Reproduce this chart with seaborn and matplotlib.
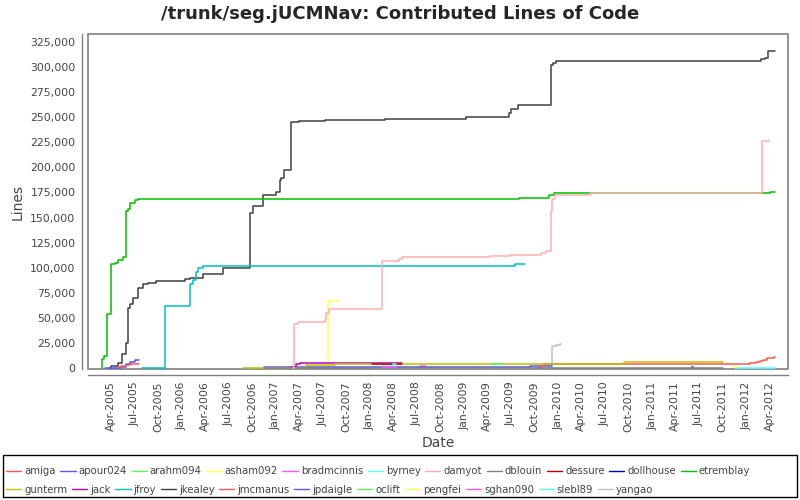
import pandas as pd
import matplotlib
matplotlib.use("Agg")
import matplotlib.pyplot as plt
import matplotlib.dates as mdates
from matplotlib.lines import Line2D
from matplotlib.patches import Rectangle
from matplotlib.ticker import FuncFormatter
import seaborn as sns

# author order as in the legend
authors = ["amiga", "apour024", "arahm094", "asham092", "bradmcinnis", "byrney",
           "damyot", "dblouin", "dessure", "dollhouse", "etremblay",
           "gunterm", "jack", "jfroy", "jkealey", "jmcmanus", "jpdaigle",
           "oclift", "pengfei", "sghan090", "slebl89", "yangao"]
colors = ["#FF5555", "#5555FF", "#55FF55", "#FFFF55", "#FF55FF", "#55FFFF",
          "#FFAFAF", "#808080", "#C00000", "#0000C0", "#00C000",
          "#C0C000", "#C000C0", "#00C0C0", "#404040", "#FF5555", "#5555FF",
          "#55FF55", "#FFFF55", "#FF55FF", "#55FFFF", "#C0C0C0"]

# cumulative lines per author
amiga_dates = ["2005-04-26", "2005-05-10", "2005-05-30", "2005-06-12", "2005-07-18"]
amiga_lines = [1000, 2000, 2700, 3700, 3700]

apour024_dates = ["2005-03-07", "2005-05-10", "2005-05-30", "2005-06-12", "2005-07-01", "2005-07-18"]
apour024_lines = [0, 1000, 3700, 6300, 7700, 7700]

arahm094_dates = ["2009-04-17", "2009-06-01"]
arahm094_lines = [3700, 3700]

asham092_dates = ["2011-11-11", "2011-12-01"]
asham092_lines = [500, 500]

bradmcinnis_dates = ["2008-02-16", "2008-04-10"]
bradmcinnis_lines = [500, 500]

byrney_dates = ["2008-02-14", "2008-04-01", "2008-04-10"]
byrney_lines = [2000, 3700, 3700]

damyot_dates = ["2007-03-10", "2007-03-14", "2007-03-27", "2007-07-09", "2007-07-15", "2007-07-28",
                "2008-02-16", "2008-04-22", "2008-05-03", "2009-04-10", "2009-06-27",
                "2009-10-28", "2009-11-16", "2009-12-03", "2009-12-07", "2009-12-11",
                "2009-12-21", "2010-05-04", "2012-03-03", "2012-04-01"]
damyot_lines = [0, 43700, 46000, 48000, 54700, 58700,
                106300, 108700, 110300, 111300, 112700,
                114300, 117000, 157000, 167000, 168700,
                172700, 174700, 226000, 227700]

dblouin_dates = ["2006-11-15", "2011-10-04"]
dblouin_lines = [300, 300]

dessure_dates = ["2008-01-08", "2008-05-03"]
dessure_lines = [3700, 3700]

dollhouse_dates = ["2011-06-04", "2011-06-10"]
dollhouse_lines = [1000, 1000]

etremblay_dates = ["2005-02-24", "2005-02-25", "2005-03-03", "2005-03-16", "2005-03-17",
                   "2005-04-01", "2005-04-14", "2005-04-27", "2005-05-16", "2005-05-30",
                   "2005-06-05", "2005-06-12", "2005-07-01", "2005-07-14", "2009-08-01",
                   "2009-11-25", "2009-12-18", "2012-03-01", "2012-04-03", "2012-04-21"]
etremblay_lines = [0, 9000, 12000, 14000, 54000,
                   104000, 105000, 108000, 111000, 157000,
                   159000, 165000, 167000, 168700, 169700,
                   172000, 174500, 174700, 175700, 175700]

gunterm_dates = ["2006-08-26", "2007-04-28", "2007-08-17", "2010-09-13", "2011-10-04"]
gunterm_lines = [0, 3000, 3700, 6000, 6000]

jack_dates = ["2007-02-27", "2007-03-18", "2007-04-05", "2008-05-03"]
jack_lines = [1300, 3700, 4700, 4700]

jfroy_dates = ["2005-07-30", "2005-10-26", "2006-01-31", "2006-02-13", "2006-02-26",
               "2006-03-04", "2006-03-23", "2009-07-10", "2009-07-16", "2009-08-27"]
jfroy_lines = [0, 62000, 83700, 87700, 95300,
               99300, 101300, 102000, 103700, 103700]

jkealey_dates = ["2005-03-26", "2005-04-01", "2005-04-26", "2005-05-15", "2005-05-30",
                 "2005-06-05", "2005-06-12", "2005-06-24", "2005-07-13", "2005-08-01",
                 "2005-08-21", "2005-09-24", "2006-01-11", "2006-01-31", "2006-03-22",
                 "2006-06-08", "2006-09-21", "2006-10-03", "2006-11-11", "2007-01-02",
                 "2007-01-15", "2007-01-22", "2007-01-31", "2007-03-01", "2007-03-02",
                 "2007-04-02", "2007-07-09", "2008-03-01", "2009-01-10", "2009-06-23",
                 "2009-07-01", "2009-07-28", "2009-12-03", "2009-12-11", "2009-12-25",
                 "2012-03-01", "2012-03-16", "2012-03-25", "2012-04-21"]
jkealey_lines = [0, 2000, 5000, 14000, 25000,
                 60000, 64000, 70000, 80000, 84000,
                 85000, 87000, 89000, 90000, 94000,
                 100000, 155000, 162000, 172000, 175000,
                 187000, 189000, 197000, 201000, 245000,
                 246000, 247500, 248500, 250000, 254000,
                 258000, 262000, 302000, 304000, 305700,
                 308000, 309000, 316000, 316000]

jmcmanus_dates = ["2009-10-15", "2009-10-28", "2009-11-06", "2012-01-15", "2012-02-10",
                  "2012-02-23", "2012-03-07", "2012-03-24", "2012-04-19", "2012-04-21"]
jmcmanus_lines = [0, 2000, 3700, 4700, 6000,
                  7000, 8000, 9700, 11000, 11000]

jpdaigle_dates = ["2006-11-15", "2006-11-18", "2009-09-13", "2009-12-07"]
jpdaigle_lines = [500, 1000, 2000, 2000]

oclift_dates = ["2009-04-17", "2009-05-10"]
oclift_lines = [300, 300]

pengfei_dates = ["2007-04-22", "2007-07-21", "2007-07-25", "2007-09-02"]
pengfei_lines = [500, 65300, 67000, 67000]

sghan090_dates = ["2008-07-13", "2008-08-01"]
sghan090_lines = [1500, 1500]

slebl89_dates = ["2011-11-18", "2012-04-21"]
slebl89_lines = [0, 0]

yangao_dates = ["2008-01-08", "2009-12-09", "2009-12-25", "2010-01-10", "2010-01-12"]
yangao_lines = [0, 22000, 23000, 23700, 23700]

series = {
    "amiga": (amiga_dates, amiga_lines), "apour024": (apour024_dates, apour024_lines),
    "arahm094": (arahm094_dates, arahm094_lines), "asham092": (asham092_dates, asham092_lines),
    "bradmcinnis": (bradmcinnis_dates, bradmcinnis_lines), "byrney": (byrney_dates, byrney_lines),
    "damyot": (damyot_dates, damyot_lines), "dblouin": (dblouin_dates, dblouin_lines),
    "dessure": (dessure_dates, dessure_lines), "dollhouse": (dollhouse_dates, dollhouse_lines),
    "etremblay": (etremblay_dates, etremblay_lines), "gunterm": (gunterm_dates, gunterm_lines),
    "jack": (jack_dates, jack_lines), "jfroy": (jfroy_dates, jfroy_lines),
    "jkealey": (jkealey_dates, jkealey_lines), "jmcmanus": (jmcmanus_dates, jmcmanus_lines),
    "jpdaigle": (jpdaigle_dates, jpdaigle_lines), "oclift": (oclift_dates, oclift_lines),
    "pengfei": (pengfei_dates, pengfei_lines), "sghan090": (sghan090_dates, sghan090_lines),
    "slebl89": (slebl89_dates, slebl89_lines), "yangao": (yangao_dates, yangao_lines),
}

rows = []
for a in authors:
    d, v = series[a]
    for di, vi in zip(d, v):
        rows.append((a, pd.Timestamp(di), vi))
df = pd.DataFrame(rows, columns=["author", "date", "lines"])

sns.set_style("white")
plt.rcParams["font.family"] = ["DejaVu Sans"]
gray_txt = "#444444"

fig = plt.figure(figsize=(8, 5), dpi=100)
ax = fig.add_axes([0.11, 0.262, 0.875, 0.67])

palette = dict(zip(authors, colors))
# first series on top, like the original
sns.lineplot(data=df, x="date", y="lines", hue="author", hue_order=authors[::-1],
             palette=palette, drawstyle="steps-post", linewidth=1.1,
             estimator=None, sort=False, legend=False, ax=ax)

ax.set_xlim(pd.Timestamp("2005-01-01"), pd.Timestamp("2012-06-12"))
ax.set_ylim(-1000, 333000)
ax.set_yticks(range(0, 325001, 25000))
ax.yaxis.set_major_formatter(FuncFormatter(lambda v, p: f"{int(v):,}"))
ax.set_xticks(pd.date_range("2005-04-01", "2012-04-01", freq="3MS"))
ax.xaxis.set_major_formatter(mdates.DateFormatter("%b-%Y"))
ax.tick_params(axis="x", rotation=90, labelsize=7.8, colors=gray_txt, length=3, width=0.8, pad=2)
ax.tick_params(axis="y", labelsize=7.8, colors=gray_txt, length=3, width=0.8, pad=2)

for s in ["top", "right"]:
    ax.spines[s].set_visible(False)
for s in ["left", "bottom"]:
    ax.spines[s].set_position(("outward", 4))
    ax.spines[s].set_color("#808080")
    ax.spines[s].set_linewidth(1)
ax.add_patch(Rectangle((0, 0), 1, 1, transform=ax.transAxes, fill=False,
                       edgecolor="#808080", linewidth=1.2, clip_on=False))

ax.set_xlabel("Date", fontsize=10, color=gray_txt, labelpad=3)
ax.set_ylabel("Lines", fontsize=10, color=gray_txt, labelpad=4)
fig.suptitle("/trunk/seg.jUCMNav: Contributed Lines of Code", fontsize=13,
             fontweight="bold", y=0.99)

# legend: two rows, flow layout inside one box
handles = [Line2D([], [], color=c, linewidth=1) for c in colors]
for row, ypos in [(0, 0.057), (1, 0.02)]:
    idx = range(row * 11, row * 11 + 11)
    leg = fig.legend([handles[i] for i in idx], [authors[i] for i in idx],
                     loc="center left", bbox_to_anchor=(0.0, ypos), ncol=11,
                     frameon=False, fontsize=7.3, handlelength=1.5, handletextpad=0.3,
                     columnspacing=0.45, borderaxespad=0.2)
    for t in leg.get_texts():
        t.set_color(gray_txt)
fig.add_artist(Rectangle((0.004, 0.006), 0.992, 0.084, transform=fig.transFigure,
                         fill=False, edgecolor="black", linewidth=1))

fig.savefig("out.png", dpi=100)
